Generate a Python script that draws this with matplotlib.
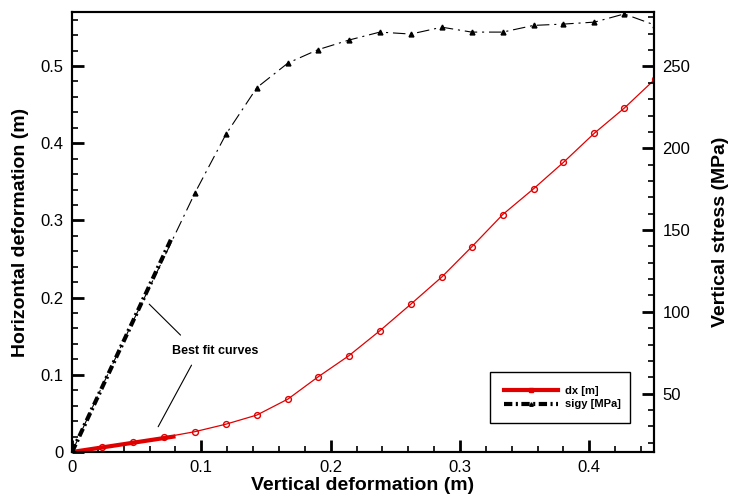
import matplotlib
matplotlib.use("Agg")
import matplotlib.pyplot as plt
from matplotlib.lines import Line2D
from matplotlib.ticker import MultipleLocator, FormatStrFormatter

plt.rcParams['font.family'] = ['Liberation Sans', 'DejaVu Sans']
plt.rcParams['lines.scale_dashes'] = False

# Data
vert_def = [0, 0.023, 0.047, 0.071, 0.095, 0.119, 0.143, 0.167, 0.190, 0.214,
            0.238, 0.262, 0.286, 0.309, 0.333, 0.357, 0.380, 0.404, 0.427, 0.451]
dx = [0, 0.0068, 0.0126, 0.019, 0.0263, 0.036, 0.0479, 0.0686, 0.097, 0.1246,
      0.157, 0.1915, 0.2268, 0.2656, 0.3075, 0.3411, 0.3752, 0.4131, 0.4454, 0.4833]
sigy = [14.3, 54, 94, 133, 172.6, 208.5, 237.1, 252.1, 260.2, 266.1,
        271.0, 269.8, 274.0, 271.0, 271.0, 275.1, 275.9, 277.1, 282.1, 275.2]

# best fit segments
fit_dx_x = [0, 0.08]
fit_dx = [0, 0.0203]
fit_sigy_x = [0, 0.077]
fit_sigy = [14.3, 145.0]

red = '#e00000'
dashdot_thin = (0, (9, 3.5, 1.5, 3.5))
dashdot_thick = (0, (6, 2.5, 1.5, 2.5))

fig = plt.figure(figsize=(7.32, 4.95), dpi=100)
ax = fig.add_axes([0.0984, 0.0869, 0.795, 0.8889])
ax2 = ax.twinx()

ax.plot(vert_def, dx, color=red, lw=0.9, marker='o', ms=4.2, mfc='none',
        mec=red, mew=1.0, zorder=3)
ax.plot(fit_dx_x, fit_dx, color=red, lw=3, solid_capstyle='butt', zorder=4)

# markers under the thick fit line are not visible in the original
ax2.plot(vert_def, sigy, color='black', lw=0.8, linestyle=dashdot_thin,
         marker='^', ms=3.5, mfc='black', mec='black', zorder=3,
         markevery=list(range(4, len(vert_def))))
ax2.plot(fit_sigy_x, fit_sigy, color='black', lw=3, linestyle=dashdot_thick,
         dash_capstyle='butt', zorder=4)

ax.set_xlim(0, 0.45)
ax.set_ylim(0, 0.57)
ax2.set_ylim(14.3, 283.3)

ax.xaxis.set_major_locator(MultipleLocator(0.1))
ax.xaxis.set_minor_locator(MultipleLocator(0.02))
ax.yaxis.set_major_locator(MultipleLocator(0.1))
ax.yaxis.set_minor_locator(MultipleLocator(0.02))
ax2.yaxis.set_major_locator(MultipleLocator(50))
ax2.yaxis.set_minor_locator(MultipleLocator(10))
ax.xaxis.set_major_formatter(FormatStrFormatter('%g'))
ax.yaxis.set_major_formatter(FormatStrFormatter('%g'))

for a in (ax, ax2):
    a.tick_params(which='major', direction='in', length=8.5, width=2,
                  labelsize=12, pad=6)
    a.tick_params(which='minor', direction='in', length=4.5, width=1.2)
    for s in a.spines.values():
        s.set_linewidth(1.5)
ax.tick_params(axis='both', which='both', top=False, right=False)
ax2.tick_params(axis='y', which='both', left=False, right=True)

ax.set_xlabel('Vertical deformation (m)', fontsize=14, fontweight='bold', labelpad=1)
ax.set_ylabel('Horizontal deformation (m)', fontsize=14, fontweight='bold', labelpad=8)
ax2.set_ylabel('Vertical stress (MPa)', fontsize=14, fontweight='bold', labelpad=16)

# annotation
ax.text(0.1104, 0.131, 'Best fit curves', fontsize=9, fontweight='bold',
        ha='center', va='center')
ax.annotate('', xy=(0.0597, 0.1915), xytext=(0.0839, 0.1514),
            arrowprops=dict(arrowstyle='-', lw=0.8, color='black',
                            shrinkA=0, shrinkB=0))
ax.annotate('', xy=(0.0666, 0.0327), xytext=(0.0924, 0.1125),
            arrowprops=dict(arrowstyle='-', lw=0.8, color='black',
                            shrinkA=0, shrinkB=0))

handles = [
    Line2D([], [], color=red, lw=3, marker='s', ms=3, mfc=red, mec=red),
    Line2D([], [], color='black', lw=3, linestyle=dashdot_thick,
           marker='^', ms=2.5),
]
leg = ax.legend(handles, ['dx [m]', 'sigy [MPa]'], loc='lower left',
                bbox_to_anchor=(0.719, 0.065, 0.239, 0.115), mode='expand',
                borderaxespad=0, fancybox=False, edgecolor='black',
                framealpha=1, prop={'weight': 'bold', 'size': 8},
                handlelength=4.8, borderpad=1.25, labelspacing=0.35,
                handletextpad=0.7)
leg.get_frame().set_linewidth(1.0)

fig.savefig('out.png', dpi=100)
